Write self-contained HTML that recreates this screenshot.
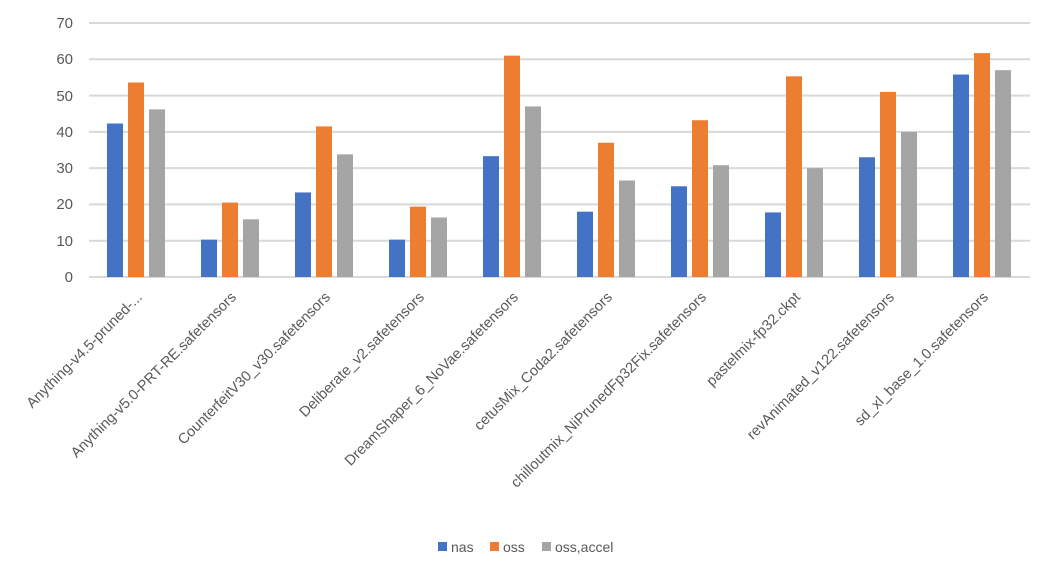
<!DOCTYPE html><html><head><style>body{margin:0;background:#fff}</style></head><body>
<svg width="1052" height="578" xmlns="http://www.w3.org/2000/svg" font-family="Liberation Sans, sans-serif" fill="#595959">
<g stroke="#d9d9d9" stroke-width="2">
<line x1="89" x2="1030" y1="23" y2="23"/><line x1="89" x2="1030" y1="59.3" y2="59.3"/><line x1="89" x2="1030" y1="95.6" y2="95.6"/><line x1="89" x2="1030" y1="131.9" y2="131.9"/><line x1="89" x2="1030" y1="168.1" y2="168.1"/><line x1="89" x2="1030" y1="204.4" y2="204.4"/><line x1="89" x2="1030" y1="240.7" y2="240.7"/><line x1="89" x2="1030" y1="277" y2="277"/>
</g>
<g font-size="15" text-anchor="end">
<text x="73" y="28">70</text><text x="73" y="64">60</text><text x="73" y="101">50</text><text x="73" y="137">40</text><text x="73" y="173">30</text><text x="73" y="209">20</text><text x="73" y="246">10</text><text x="73" y="282">0</text>
</g>
<g id="bars"></g>
<g id="labels" font-size="14.6" text-anchor="end"></g>
<g font-size="14">
<rect x="438" y="542" width="9" height="9" fill="#4472c4"/><text x="451" y="552">nas</text>
<rect x="490" y="542" width="9" height="9" fill="#ed7d31"/><text x="503" y="552">oss</text>
<rect x="542" y="542" width="9" height="9" fill="#a5a5a5"/><text x="555" y="552">oss,accel</text>
</g>
</svg>
<script>
const d=[[42.3,53.6,46.2],[10.3,20.5,15.9],[23.3,41.5,33.8],[10.3,19.4,16.4],[33.3,61,47],[18,37,26.6],[25,43.2,30.8],[17.8,55.3,30],[33,51,40],[55.8,61.7,57]];
const n=["Anything-v4.5-pruned-...","Anything-v5.0-PRT-RE.safetensors","CounterfeitV30_v30.safetensors","Deliberate_v2.safetensors","DreamShaper_6_NoVae.safetensors","cetusMix_Coda2.safetensors","chilloutmix_NiPrunedFp32Fix.safetensors","pastelmix-fp32.ckpt","revAnimated_v122.safetensors","sd_xl_base_1.0.safetensors"];
const c=["#4472c4","#ed7d31","#a5a5a5"];let b="",l="";
d.forEach((g,i)=>{g.forEach((v,j)=>{const h=v*3.6286;b+=`<rect x="${107+i*94+j*21}" y="${277-h}" width="16" height="${h}" fill="${c[j]}"/>`});
const cx=143+i*94;l+=`<text transform="translate(${cx},298) rotate(-45)">${n[i]}</text>`});
document.getElementById("bars").innerHTML=b;document.getElementById("labels").innerHTML=l;
</script>
</body></html>
